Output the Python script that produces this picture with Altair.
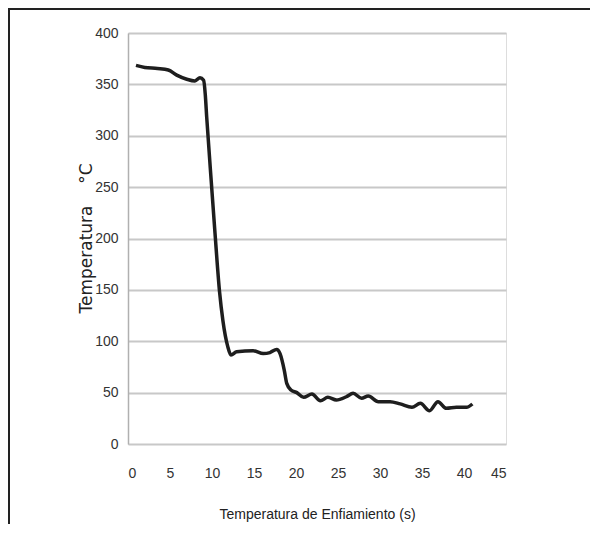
import altair as alt
import pandas as pd

# data
tiempo = [0.95, 2.0, 3.5, 4.8, 5.8, 7.0, 7.97, 8.57, 9.0, 9.2, 9.37, 9.96, 10.36, 10.9,
          11.3, 11.87, 12.26, 12.94, 14.9, 16.1, 16.9, 17.7, 18.1, 18.6, 18.9, 19.4, 20.1,
          20.9, 21.9, 22.9, 23.8, 24.8, 26.0, 26.8, 27.8, 28.6, 29.8, 31.2, 32.4, 33.8,
          34.8, 35.9, 36.9, 37.9, 39.1, 40.3, 41.0]
temperatura = [368.5, 366.5, 365.5, 364, 359, 355, 353.3, 356.5, 354, 340, 318, 250, 205, 148,
               120, 95, 86.6, 89.8, 90.8, 88, 89, 92, 88, 72, 59, 52.6, 50,
               45.4, 48.7, 42, 45.4, 42.8, 46, 49.3, 44.5, 46.7, 41.2, 41.2, 39, 35.7,
               39.6, 32.4, 41.2, 34.7, 35.7, 35.7, 38.9]
x_ticks = [0, 5, 10, 15, 20, 25, 30, 35, 40, 45]
y_ticks = [0, 50, 100, 150, 200, 250, 300, 350, 400]

df = pd.DataFrame({"t": tiempo, "T": temperatura})

lab_font = "Liberation Sans"
nb = "\u00a0"

line = alt.Chart(df).mark_line(
    color="#1e1e1e", strokeWidth=3.5, interpolate="monotone"
).encode(
    x=alt.X("t:Q",
            scale=alt.Scale(domain=[0, 45], nice=False, zero=False),
            axis=alt.Axis(values=x_ticks, grid=False, ticks=False, tickSize=0,
                          domain=False, labelPadding=29, labelBaseline="middle",
                          labelFont=lab_font, labelFontSize=14, labelColor="#333333",
                          title="Temperatura de Enfiamiento (s)", titleFont=lab_font,
                          titleFontSize=14, titleFontWeight="normal", titleColor="#222222",
                          titleX=189, titleY=70, titleBaseline="middle", titleAlign="center")),
    y=alt.Y("T:Q",
            scale=alt.Scale(domain=[0, 400], nice=False),
            axis=alt.Axis(values=y_ticks, grid=True, gridColor="#c8c8c8", gridWidth=2.2,
                          ticks=False, tickSize=0, domain=True, domainColor="#b0b0b0",
                          domainWidth=1.5, labelPadding=10, labelFont=lab_font,
                          labelFontSize=14, labelColor="#333333",
                          title="Temperatura" + nb * 3 + " °C", titleFont="DejaVu Sans",
                          titleFontSize=17, titleFontWeight="normal", titleColor="#222222",
                          titleAngle=270, titleX=-42, titleY=205,
                          titleBaseline="middle", titleAlign="center")),
)

frame = alt.Chart(pd.DataFrame({"a": [0]})).mark_rect(
    fill=None, stroke="#222222", strokeWidth=2
).encode(
    x=alt.value(-119), x2=alt.value(472), y=alt.value(-24), y2=alt.value(560)
)

chart = alt.layer(frame, line).properties(
    width=378, height=411,
    autosize=alt.AutoSizeParams(type="none"),
    padding={"left": 120, "top": 25, "right": 84, "bottom": 80},
).configure_view(stroke=None).configure(background="white")

chart.save("out.html", embed_options={"renderer": "svg", "actions": False})
